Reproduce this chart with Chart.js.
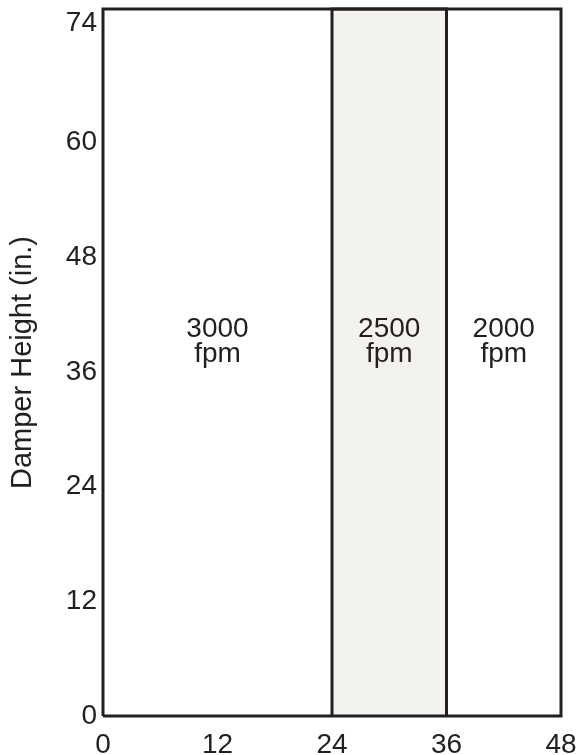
<!DOCTYPE html>
<html>
<head>
<meta charset="utf-8">
<script src="https://cdn.jsdelivr.net/npm/chart.js@4.4.1/dist/chart.umd.min.js"></script>
<style>
  html, body { margin: 0; padding: 0; background: #fff; }
  #wrap { width: 580px; height: 755px; }
</style>
</head>
<body>
<div id="wrap"><canvas id="damperChart" width="580" height="755"></canvas></div>
<script>
// damper width bands (in.) and the face velocity for each
const bandEdges = [0, 24, 36, 48];
const bandSpeeds = ['3000', '2500', '2000'];
const bandUnit = 'fpm';
const shadedBand = 1;

const xTicks = [0, 12, 24, 36, 48];
const yTicks = [0, 12, 24, 36, 48, 60, 74];
const yMax = 74;

const ink = '#231f20';
const font = 'Liberation Sans, Arial, Helvetica, sans-serif';

const xMin = bandEdges[0];
const xMax = bandEdges[bandEdges.length - 1];
const s0 = bandEdges[shadedBand], s1 = bandEdges[shadedBand + 1];

// writes "3000 / fpm" in the middle of each band
const bandLabels = {
  id: 'bandLabels',
  afterDatasetsDraw(chart) {
    const { ctx, scales: { x, y } } = chart;
    const py = y.getPixelForValue(38.4);
    ctx.save();
    ctx.fillStyle = ink;
    ctx.font = '28px ' + font;
    ctx.textAlign = 'center';
    ctx.textBaseline = 'alphabetic';
    for (let i = 0; i < bandSpeeds.length; i++) {
      const px = x.getPixelForValue((bandEdges[i] + bandEdges[i + 1]) / 2);
      ctx.fillText(bandSpeeds[i], px, py - 12);
      ctx.fillText(bandUnit, px, py + 13);
    }
    ctx.restore();
  }
};

const ctx = document.getElementById('damperChart').getContext('2d');
const damperChart = new Chart(ctx, {
  type: 'line',
  data: {
    datasets: [
      {
        // outer frame
        data: [
          { x: xMin, y: 0 }, { x: xMin, y: yMax }, { x: xMax, y: yMax },
          { x: xMax, y: 0 }, { x: xMin, y: 0 }
        ],
        borderColor: ink,
        borderWidth: 3,
        borderJoinStyle: 'miter',
        fill: false,
        pointRadius: 0,
        clip: false
      },
      {
        // shaded 2500 fpm band
        data: [
          { x: s0, y: 0 }, { x: s0, y: yMax }, { x: s1, y: yMax }, { x: s1, y: 0 }
        ],
        borderColor: ink,
        borderWidth: 3,
        borderJoinStyle: 'miter',
        backgroundColor: '#f3f2ee',
        fill: 'origin',
        pointRadius: 0,
        clip: false
      }
    ]
  },
  options: {
    responsive: false,
    animation: false,
    layout: { padding: { top: 9, right: 19, left: 0, bottom: 0 } },
    plugins: {
      legend: { display: false },
      tooltip: { enabled: false }
    },
    scales: {
      x: {
        type: 'linear',
        min: xMin,
        max: xMax,
        grid: { display: false, drawTicks: false },
        border: { display: false },
        afterBuildTicks: (scale) => { scale.ticks = xTicks.map(v => ({ value: v })); },
        afterFit: (scale) => {
          scale.height = 39;
          scale.paddingLeft = 0;
          scale.paddingRight = 0;
        },
        ticks: {
          color: ink,
          padding: 17,
          maxRotation: 0,
          font: { family: font, size: 28, lineHeight: 0.86 },
          callback: (v) => String(v)
        }
      },
      y: {
        type: 'linear',
        min: 0,
        max: yMax,
        grid: { display: false, drawTicks: false },
        border: { display: false },
        afterBuildTicks: (scale) => { scale.ticks = yTicks.map(v => ({ value: v })); },
        afterFit: (scale) => {
          scale.width = 103;
          scale.paddingTop = 0;
          scale.paddingBottom = 0;
        },
        ticks: {
          color: ink,
          padding: 6,
          font: { family: font, size: 28, lineHeight: 1.0 },
          // top label sits just under the frame, not centred on it
          callback: (v) => (v === yMax ? ['', String(v)] : String(v))
        },
        title: {
          display: true,
          text: 'Damper Height (in.)',
          color: ink,
          padding: { top: 6, bottom: 0 },
          font: { family: font, size: 29, lineHeight: 1.2 }
        }
      }
    }
  },
  plugins: [bandLabels]
});
</script>
</body>
</html>
